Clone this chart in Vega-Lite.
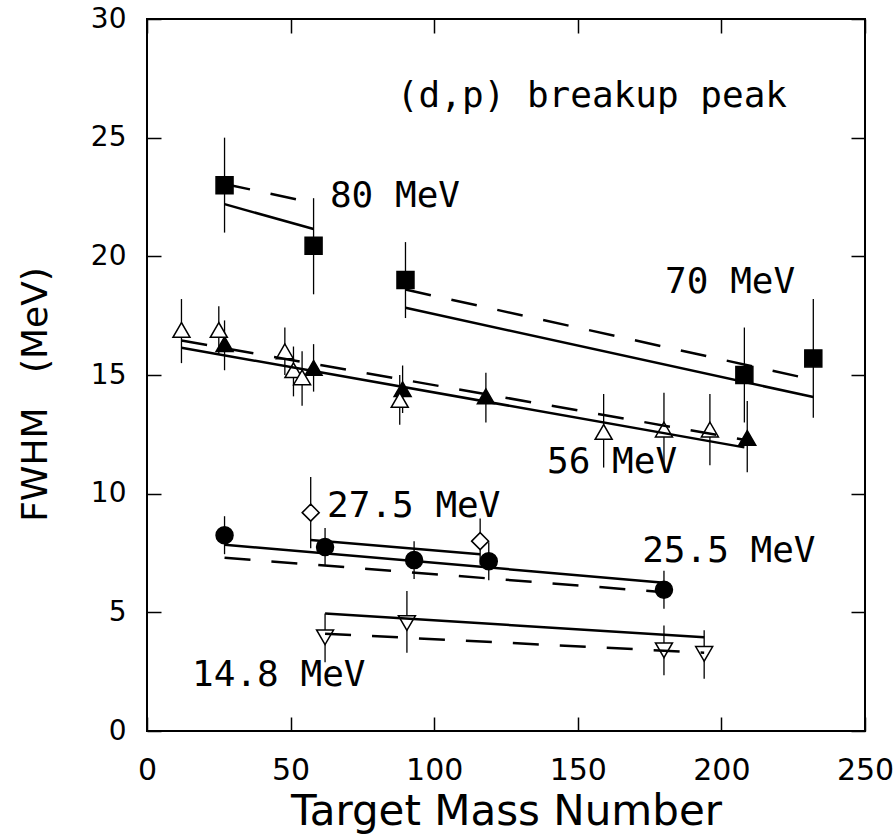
{
  "$schema": "https://vega.github.io/schema/vega-lite/v6.json",
  "width": 718,
  "height": 712,
  "autosize": "none",
  "padding": {"left": 147, "top": 19, "right": 30, "bottom": 103},
  "background": "white",
  "config": {
    "view": {"stroke": "black", "strokeWidth": 2},
    "axis": {
      "domain": false,
      "grid": false,
      "labelFlush": false,
      "labelOverlap": false,
      "tickColor": "black",
      "tickWidth": 1.5,
      "labelColor": "black",
      "titleColor": "black",
      "labelFont": "DejaVu Sans",
      "titleFont": "DejaVu Sans",
      "titleFontWeight": "normal"
    }
  },
  "datasets": {
    "points": [
      {"series": "80 MeV", "mass": 27, "fwhm": 23.0, "lo": 21.0, "hi": 25.0},
      {"series": "80 MeV", "mass": 58, "fwhm": 20.45, "lo": 18.4, "hi": 22.45},
      {"series": "70 MeV", "mass": 90, "fwhm": 19.0, "lo": 17.4, "hi": 20.6},
      {"series": "70 MeV", "mass": 208, "fwhm": 15.0, "lo": 13.0, "hi": 17.0},
      {"series": "70 MeV", "mass": 232, "fwhm": 15.7, "lo": 13.2, "hi": 18.2},
      {"series": "56 MeV filled", "mass": 27, "fwhm": 16.3, "lo": 15.2, "hi": 17.3},
      {"series": "56 MeV filled", "mass": 58, "fwhm": 15.3, "lo": 14.3, "hi": 16.3},
      {"series": "56 MeV filled", "mass": 89, "fwhm": 14.4, "lo": 13.4, "hi": 15.4},
      {"series": "56 MeV filled", "mass": 118, "fwhm": 14.1, "lo": 13.0, "hi": 15.1},
      {"series": "56 MeV filled", "mass": 209, "fwhm": 12.35, "lo": 10.9, "hi": 13.9},
      {"series": "56 MeV open", "mass": 12, "fwhm": 16.9, "lo": 15.5, "hi": 18.2},
      {"series": "56 MeV open", "mass": 25, "fwhm": 16.9, "lo": 15.9, "hi": 17.9},
      {"series": "56 MeV open", "mass": 48, "fwhm": 16.0, "lo": 15.0, "hi": 17.0},
      {"series": "56 MeV open", "mass": 51, "fwhm": 15.2, "lo": 14.1, "hi": 16.2},
      {"series": "56 MeV open", "mass": 54, "fwhm": 14.9, "lo": 13.7, "hi": 16.0},
      {"series": "56 MeV open", "mass": 88, "fwhm": 13.95, "lo": 12.9, "hi": 15.0},
      {"series": "56 MeV open", "mass": 159, "fwhm": 12.6, "lo": 11.1, "hi": 14.2},
      {"series": "56 MeV open", "mass": 180, "fwhm": 12.7, "lo": 11.2, "hi": 14.25},
      {"series": "56 MeV open", "mass": 196, "fwhm": 12.7, "lo": 11.2, "hi": 14.2},
      {"series": "27.5 MeV", "mass": 57, "fwhm": 9.2, "lo": 7.7, "hi": 10.7},
      {"series": "27.5 MeV", "mass": 116, "fwhm": 8.0, "lo": 7.0, "hi": 8.95},
      {"series": "25.5 MeV", "mass": 27, "fwhm": 8.25, "lo": 7.45, "hi": 9.05},
      {"series": "25.5 MeV", "mass": 62, "fwhm": 7.75, "lo": 6.95, "hi": 8.55},
      {"series": "25.5 MeV", "mass": 93, "fwhm": 7.2, "lo": 6.4, "hi": 8.0},
      {"series": "25.5 MeV", "mass": 119, "fwhm": 7.15, "lo": 6.35, "hi": 7.95},
      {"series": "25.5 MeV", "mass": 180, "fwhm": 5.95, "lo": 5.15, "hi": 6.75},
      {"series": "14.8 MeV", "mass": 62, "fwhm": 3.95, "lo": 2.9, "hi": 4.95},
      {"series": "14.8 MeV", "mass": 90.5, "fwhm": 4.55, "lo": 3.3, "hi": 5.9},
      {"series": "14.8 MeV", "mass": 180, "fwhm": 3.4, "lo": 2.35, "hi": 4.45},
      {"series": "14.8 MeV", "mass": 194, "fwhm": 3.25, "lo": 2.2, "hi": 4.25}
    ],
    "solid": [
      {"fit": "80 MeV", "mass": 27, "fwhm": 22.2},
      {"fit": "80 MeV", "mass": 58, "fwhm": 21.15},
      {"fit": "70 MeV", "mass": 90, "fwhm": 17.83},
      {"fit": "70 MeV", "mass": 232, "fwhm": 14.07},
      {"fit": "56 MeV", "mass": 12, "fwhm": 16.15},
      {"fit": "56 MeV", "mass": 208, "fwhm": 11.95},
      {"fit": "27.5 MeV", "mass": 57, "fwhm": 8.05},
      {"fit": "27.5 MeV", "mass": 116, "fwhm": 7.45},
      {"fit": "25.5 MeV", "mass": 27, "fwhm": 7.85},
      {"fit": "25.5 MeV", "mass": 180, "fwhm": 6.25},
      {"fit": "14.8 MeV", "mass": 62, "fwhm": 4.95},
      {"fit": "14.8 MeV", "mass": 194, "fwhm": 3.95}
    ],
    "dashed": [
      {"fit": "80 MeV", "mass": 27, "fwhm": 23.05},
      {"fit": "80 MeV", "mass": 58, "fwhm": 22.25},
      {"fit": "70 MeV", "mass": 90, "fwhm": 18.6},
      {"fit": "70 MeV", "mass": 232, "fwhm": 14.8},
      {"fit": "56 MeV", "mass": 12, "fwhm": 16.45},
      {"fit": "56 MeV", "mass": 209, "fwhm": 12.25},
      {"fit": "25.5 MeV", "mass": 27, "fwhm": 7.3},
      {"fit": "25.5 MeV", "mass": 180, "fwhm": 5.85},
      {"fit": "14.8 MeV", "mass": 62, "fwhm": 4.1},
      {"fit": "14.8 MeV", "mass": 194, "fwhm": 3.3}
    ],
    "labels": [
      {"text": "(d,p) breakup peak", "mass": 87, "fwhm": 26.3},
      {"text": "80 MeV", "mass": 63.7, "fwhm": 22.08},
      {"text": "70 MeV", "mass": 180.4, "fwhm": 18.46},
      {"text": "56 MeV", "mass": 139.3, "fwhm": 10.87},
      {"text": "27.5 MeV", "mass": 62.7, "fwhm": 9.02},
      {"text": "25.5 MeV", "mass": 172.4, "fwhm": 7.12},
      {"text": "14.8 MeV", "mass": 15.7, "fwhm": 1.9}
    ]
  },
  "layer": [
    {
      "data": {"name": "points"},
      "mark": {"type": "rule", "color": "black", "strokeWidth": 1.3},
      "encoding": {
        "x": {
          "field": "mass", "type": "quantitative",
          "scale": {"domain": [0, 250], "nice": false, "zero": false},
          "axis": {
            "orient": "bottom",
            "values": [0, 50, 100, 150, 200, 250],
            "tickSize": -14,
            "labelPadding": 38,
            "labelFontSize": 30,
            "title": "Target Mass Number",
            "titleFontSize": 42,
            "titleY": 80,
            "titleBaseline": "middle"
          }
        },
        "y": {
          "field": "lo", "type": "quantitative",
          "scale": {"domain": [0, 30], "nice": false, "zero": false},
          "axis": {
            "orient": "left",
            "values": [0, 5, 10, 15, 20, 25, 30],
            "tickSize": -14,
            "labelPadding": 35,
            "labelFontSize": 28,
            "title": "FWHM\u00a0\u00a0\u00a0(MeV)",
            "titleFontSize": 36,
            "titleAngle": -90,
            "titleX": -112,
            "titleY": 375,
            "titleAlign": "center",
            "titleBaseline": "middle"
          }
        },
        "y2": {"field": "hi"}
      }
    },
    {
      "data": {"name": "points"},
      "mark": {"type": "point", "filled": false, "stroke": "black", "strokeWidth": 1.5, "opacity": 1},
      "encoding": {
        "x": {
          "field": "mass", "type": "quantitative",
          "scale": {"domain": [0, 250], "nice": false, "zero": false},
          "axis": {"orient": "top", "values": [0, 50, 100, 150, 200, 250], "tickSize": -14, "labels": false, "title": null}
        },
        "y": {
          "field": "fwhm", "type": "quantitative",
          "scale": {"domain": [0, 30], "nice": false, "zero": false},
          "axis": {"orient": "right", "values": [0, 5, 10, 15, 20, 25, 30], "tickSize": -14, "labels": false, "title": null}
        },
        "shape": {
          "field": "series", "type": "nominal", "legend": null,
          "scale": {
            "domain": ["80 MeV", "70 MeV", "56 MeV filled", "56 MeV open", "27.5 MeV", "25.5 MeV", "14.8 MeV"],
            "range": ["square", "square", "triangle-up", "triangle-up", "diamond", "circle", "triangle-down"]
          }
        },
        "fill": {
          "field": "series", "type": "nominal", "legend": null,
          "scale": {
            "domain": ["80 MeV", "70 MeV", "56 MeV filled", "56 MeV open", "27.5 MeV", "25.5 MeV", "14.8 MeV"],
            "range": ["black", "black", "black", "white", "white", "black", "white"]
          }
        },
        "size": {
          "field": "series", "type": "nominal", "legend": null,
          "scale": {
            "domain": ["80 MeV", "70 MeV", "56 MeV filled", "56 MeV open", "27.5 MeV", "25.5 MeV", "14.8 MeV"],
            "range": [289, 289, 324, 529, 441, 324, 529]
          }
        }
      }
    },
    {
      "data": {"name": "solid"},
      "mark": {"type": "line", "color": "black", "strokeWidth": 2.5},
      "encoding": {
        "x": {"field": "mass", "type": "quantitative", "axis": null},
        "y": {"field": "fwhm", "type": "quantitative", "axis": null},
        "detail": {"field": "fit", "type": "nominal"}
      }
    },
    {
      "data": {"name": "dashed"},
      "mark": {"type": "line", "color": "black", "strokeWidth": 2.5, "strokeDash": [26, 21]},
      "encoding": {
        "x": {"field": "mass", "type": "quantitative", "axis": null},
        "y": {"field": "fwhm", "type": "quantitative", "axis": null},
        "detail": {"field": "fit", "type": "nominal"}
      }
    },
    {
      "data": {"name": "labels"},
      "mark": {"type": "text", "align": "left", "baseline": "alphabetic", "font": "DejaVu Sans Mono", "fontSize": 36, "color": "black"},
      "encoding": {
        "x": {"field": "mass", "type": "quantitative", "axis": null},
        "y": {"field": "fwhm", "type": "quantitative", "axis": null},
        "text": {"field": "text"}
      }
    }
  ],
  "resolve": {"axis": {"x": "independent", "y": "independent"}}
}
